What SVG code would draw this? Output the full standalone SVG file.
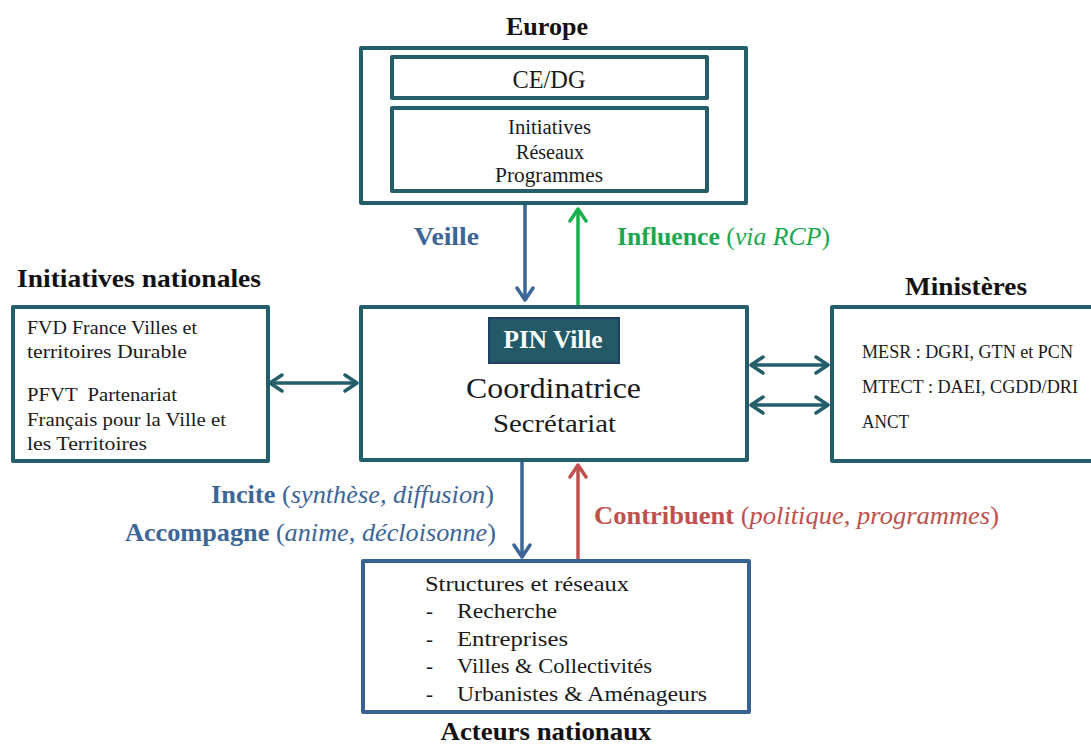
<svg xmlns="http://www.w3.org/2000/svg" width="1091" height="744" viewBox="0 0 1091 744">
<style>
text{font-family:"Liberation Serif","DejaVu Serif",serif;fill:#1a1a1a}
.t{font-weight:bold;font-size:25px;fill:#111}
.box{fill:#fff;stroke:#255e6b;stroke-width:4;stroke-linejoin:round}
.ln{fill:none;stroke-width:3.5}
.lab{font-size:25px}
.b{font-weight:bold}
.i{font-style:italic}
</style>
<defs>
<marker id="mTeal" viewBox="0 0 18 20" refX="15" refY="10" markerWidth="18" markerHeight="20" markerUnits="userSpaceOnUse" orient="auto-start-reverse"><path d="M3,2 L15,10 L3,18" fill="none" stroke="#255e6b" stroke-width="3.5" stroke-linecap="round" stroke-linejoin="round"/></marker>
<marker id="mBlue" viewBox="0 0 18 20" refX="15" refY="10" markerWidth="18" markerHeight="20" markerUnits="userSpaceOnUse" orient="auto"><path d="M3,2 L15,10 L3,18" fill="none" stroke="#3c6598" stroke-width="3.5" stroke-linecap="round" stroke-linejoin="round"/></marker>
<marker id="mGreen" viewBox="0 0 18 20" refX="15" refY="10" markerWidth="18" markerHeight="20" markerUnits="userSpaceOnUse" orient="auto"><path d="M3,2 L15,10 L3,18" fill="none" stroke="#16b04d" stroke-width="3.5" stroke-linecap="round" stroke-linejoin="round"/></marker>
<marker id="mRed" viewBox="0 0 18 20" refX="15" refY="10" markerWidth="18" markerHeight="20" markerUnits="userSpaceOnUse" orient="auto"><path d="M3,2 L15,10 L3,18" fill="none" stroke="#c0504d" stroke-width="3.5" stroke-linecap="round" stroke-linejoin="round"/></marker>
</defs>

<g id="europe">
<text class="t" x="547" y="35" text-anchor="middle" textLength="82" lengthAdjust="spacingAndGlyphs">Europe</text>
<rect class="box" x="361" y="48" width="385" height="155"/>
<rect class="box" x="392" y="57" width="315" height="41"/>
<text x="549" y="88" font-size="25" text-anchor="middle" textLength="73" lengthAdjust="spacingAndGlyphs">CE/DG</text>
<rect class="box" x="392" y="108" width="315" height="83"/>
<text x="549.5" y="134" font-size="20" text-anchor="middle" textLength="83" lengthAdjust="spacingAndGlyphs">Initiatives</text>
<text x="550" y="159" font-size="20" text-anchor="middle" textLength="68" lengthAdjust="spacingAndGlyphs">Réseaux</text>
<text x="549" y="182" font-size="20" text-anchor="middle" textLength="108" lengthAdjust="spacingAndGlyphs">Programmes</text>
</g>

<g id="initiatives-nationales">
<text class="t" x="17" y="287" textLength="244" lengthAdjust="spacingAndGlyphs">Initiatives nationales</text>
<rect class="box" x="13" y="307" width="255" height="154"/>
<g font-size="19">
<text x="27" y="334" textLength="170" lengthAdjust="spacingAndGlyphs">FVD France Villes et</text>
<text x="27" y="358" textLength="160" lengthAdjust="spacingAndGlyphs">territoires Durable</text>
<text x="27" y="401" textLength="150" lengthAdjust="spacingAndGlyphs" xml:space="preserve">PFVT  Partenariat</text>
<text x="27" y="426" textLength="199" lengthAdjust="spacingAndGlyphs">Français pour la Ville et</text>
<text x="27" y="450" textLength="120" lengthAdjust="spacingAndGlyphs">les Territoires</text>
</g>
</g>

<g id="pin-ville">
<rect class="box" x="361" y="307" width="386" height="153"/>
<rect x="489" y="318" width="130" height="45" fill="#245a68" stroke="#1f3f63" stroke-width="2"/>
<text x="553" y="348" font-size="25" font-weight="bold" text-anchor="middle" style="fill:#fff" textLength="99" lengthAdjust="spacingAndGlyphs">PIN Ville</text>
<text x="553.5" y="398" font-size="29" text-anchor="middle" textLength="175" lengthAdjust="spacingAndGlyphs">Coordinatrice</text>
<text x="554.5" y="432" font-size="25" text-anchor="middle" textLength="123" lengthAdjust="spacingAndGlyphs">Secrétariat</text>
</g>

<g id="ministeres">
<text class="t" x="966" y="295" text-anchor="middle" textLength="122" lengthAdjust="spacingAndGlyphs">Ministères</text>
<rect class="box" x="832" y="307" width="264" height="154"/>
<g font-size="19">
<text x="862" y="358" textLength="211" lengthAdjust="spacingAndGlyphs">MESR : DGRI, GTN et PCN</text>
<text x="862" y="393" textLength="216" lengthAdjust="spacingAndGlyphs">MTECT : DAEI, CGDD/DRI</text>
<text x="862" y="428" textLength="47" lengthAdjust="spacingAndGlyphs">ANCT</text>
</g>
</g>

<g id="acteurs-nationaux">
<rect x="363" y="561" width="386" height="151" fill="#fff" stroke="#386290" stroke-width="4" stroke-linejoin="round"/>
<g font-size="21">
<text x="425" y="591" textLength="204" lengthAdjust="spacingAndGlyphs">Structures et réseaux</text>
<text x="426" y="618">-</text>
<text x="457" y="618" textLength="100" lengthAdjust="spacingAndGlyphs">Recherche</text>
<text x="426" y="646">-</text>
<text x="457" y="646" textLength="111" lengthAdjust="spacingAndGlyphs">Entreprises</text>
<text x="426" y="673">-</text>
<text x="457" y="673" textLength="195" lengthAdjust="spacingAndGlyphs">Villes &amp; Collectivités</text>
<text x="426" y="701">-</text>
<text x="457" y="701" textLength="250" lengthAdjust="spacingAndGlyphs">Urbanistes &amp; Aménageurs</text>
</g>
<text class="t" x="546" y="740" text-anchor="middle" textLength="211" lengthAdjust="spacingAndGlyphs">Acteurs nationaux</text>
</g>

<g id="connectors">
<path class="ln" d="M525,205 V300" stroke="#3c6598" marker-end="url(#mBlue)"/>
<path class="ln" d="M578,305 V209" stroke="#16b04d" marker-end="url(#mGreen)"/>
<path class="ln" d="M270,383 H357" stroke="#255e6b" marker-start="url(#mTeal)" marker-end="url(#mTeal)"/>
<path class="ln" d="M751,365 H828" stroke="#255e6b" marker-start="url(#mTeal)" marker-end="url(#mTeal)"/>
<path class="ln" d="M751,405 H828" stroke="#255e6b" marker-start="url(#mTeal)" marker-end="url(#mTeal)"/>
<path class="ln" d="M522,462 V557" stroke="#3c6598" marker-end="url(#mBlue)"/>
<path class="ln" d="M578,559 V465" stroke="#c0504d" marker-end="url(#mRed)"/>
</g>

<g id="labels" class="lab">
<text x="414" y="245" class="b" style="fill:#3c6598" textLength="65" lengthAdjust="spacingAndGlyphs">Veille</text>
<text x="617" y="245" style="fill:#1aa84f" textLength="213" lengthAdjust="spacingAndGlyphs"><tspan class="b">Influence</tspan> (<tspan class="i">via RCP</tspan>)</text>
<text x="494" y="503" text-anchor="end" style="fill:#3c6598" textLength="283" lengthAdjust="spacingAndGlyphs"><tspan class="b">Incite</tspan> (<tspan class="i">synthèse, diffusion</tspan>)</text>
<text x="496" y="541" text-anchor="end" style="fill:#3c6598" textLength="371" lengthAdjust="spacingAndGlyphs"><tspan class="b">Accompagne</tspan> (<tspan class="i">anime, décloisonne</tspan>)</text>
<text x="594" y="524" style="fill:#c0504d" textLength="405" lengthAdjust="spacingAndGlyphs"><tspan class="b">Contribuent</tspan> (<tspan class="i">politique, programmes</tspan>)</text>
</g>
</svg>
